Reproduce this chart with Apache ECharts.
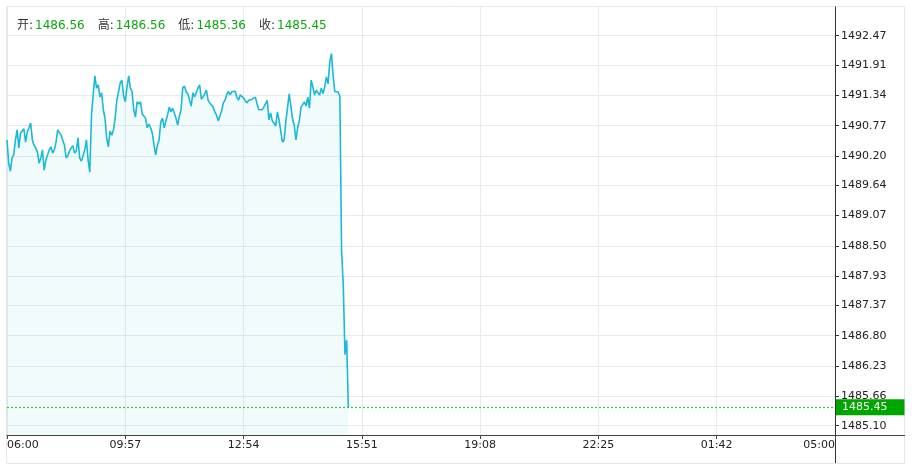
<!DOCTYPE html>
<html>
<head>
<meta charset="utf-8">
<script src="https://cdn.jsdelivr.net/npm/echarts@6/dist/echarts.min.js"></script>
<style>
html,body{margin:0;padding:0;background:#fff;}
#main{width:915px;height:467px;}
</style>
</head>
<body>
<div id="main"></div>
<script>
const xLabels = ['06:00','09:57','12:54','15:51','19:08','22:25','01:42','05:00'];
const yTickLabels = ['1485.10','1485.66','1486.23','1486.80','1487.37','1487.93','1488.50','1489.07','1489.64','1490.20','1490.77','1491.34','1491.91','1492.47'];
const headerNames = ['开','高','低','收'];
const headerValues = [1486.56, 1486.56, 1485.36, 1485.45];
const lastPrice = 1485.45;
const totalSlots = 490;
const prices = [
1490.50,1490.06,1489.91,1490.16,1490.22,1490.50,1490.69,1490.35,1490.63,1490.61,
1490.71,1490.46,1490.65,1490.73,1490.82,1490.50,1490.40,1490.35,1490.27,1490.06,
1490.16,1490.31,1489.93,1490.12,1490.22,1490.31,1490.37,1490.25,1490.31,1490.46,
1490.69,1490.71,1490.59,1490.61,1490.40,1490.16,1490.20,1490.29,1490.35,1490.39,
1490.25,1490.29,1490.54,1490.16,1490.10,1490.12,1490.31,1490.50,1490.12,1489.89,
1490.97,1491.35,1491.71,1491.48,1491.54,1491.31,1491.39,1491.07,1490.91,1490.54,
1490.37,1490.67,1490.59,1490.69,1490.91,1491.25,1491.41,1491.58,1491.63,1491.33,
1491.22,1491.50,1491.71,1491.48,1491.41,1491.07,1490.93,1491.22,1491.18,1491.22,
1490.99,1490.95,1490.91,1490.73,1490.80,1490.73,1490.63,1490.40,1490.22,1490.40,
1490.50,1490.84,1490.91,1490.73,1490.76,1490.97,1491.12,1491.03,1491.10,1491.01,
1490.91,1490.78,1490.95,1491.07,1491.48,1491.52,1491.41,1491.37,1491.35,1491.14,
1491.39,1491.31,1491.33,1491.48,1491.54,1491.27,1491.31,1491.37,1491.44,1491.25,
1491.20,1491.22,1491.12,1491.03,1490.97,1490.86,1490.95,1491.05,1491.20,1491.25,
1491.35,1491.42,1491.35,1491.41,1491.39,1491.42,1491.31,1491.25,1491.35,1491.37,
1491.29,1491.24,1491.20,1491.25,1491.24,1491.27,1491.25,1491.31,1491.18,1491.07,
1491.10,1491.07,1491.12,1491.12,1491.25,1490.88,1491.01,1490.86,1490.82,1490.76,
1491.03,1490.88,1490.67,1490.46,1490.50,1490.84,1490.82,1491.37,1491.14,1490.89,
1490.78,1490.50,1490.73,1490.86,1491.12,1491.14,1491.22,1491.14,1491.31,1491.10,
1491.63,1491.50,1491.35,1491.44,1491.46,1491.35,1491.48,1491.37,1491.50,1491.69,
1491.56,1491.97,1492.13,1491.71,1491.41,1491.44,1491.41,1491.32,1488.42,1487.76,
1486.44,1486.72,1485.45
];

const chart = echarts.init(document.getElementById('main'), null, {renderer:'canvas'});
const FONT = 'DejaVu Sans, Noto Sans CJK SC, sans-serif';
const headerText = headerNames.map((n,i)=>'{l|'+n+':}{v|'+headerValues[i].toFixed(2)+'}' + (i<headerNames.length-1?'{g|}':'')).join('');

const option = {
  animation:false,
  backgroundColor:'#fff',
  title:{
    left:12, top:15,
    text: headerText,
    textStyle:{
      fontFamily:FONT, fontSize:12, fontWeight:'normal',
      rich:{
        l:{color:'#333', fontFamily:FONT, fontSize:12, fontWeight:'normal', padding:[0,2,0,0]},
        v:{color:'#0ea80e', fontFamily:FONT, fontSize:12, fontWeight:'normal'},
        g:{width:13}
      }
    }
  },
  grid:{left:7, right:80, top:7, bottom:32},
  xAxis:{
    type:'value', min:0, max:totalSlots, interval:totalSlots/(xLabels.length-1),
    axisLine:{show:true, onZero:false, lineStyle:{color:'#444', width:1}},
    axisTick:{show:true, inside:false, length:4, lineStyle:{color:'#444'}},
    axisLabel:{
      margin:5, color:'#222', fontFamily:FONT, fontSize:11,
      alignMinLabel:'left', alignMaxLabel:'right',
      formatter:(v)=>xLabels[Math.round(v/(totalSlots/(xLabels.length-1)))]
    },
    splitLine:{show:true, lineStyle:{color:'#e4ecf2', width:1}}
  },
  yAxis:{
    type:'value', position:'right', min:1484.924, max:1493.012, scale:true,
    axisLine:{show:true, onZero:false, lineStyle:{color:'#333', width:1}},
    axisTick:{show:true, inside:false, length:4, lineStyle:{color:'#333'}, customValues: yTickLabels.map(Number)},
    axisLabel:{
      margin:6, color:'#222', fontFamily:FONT, fontSize:11,
      customValues: yTickLabels.map(Number),
      formatter:(v)=>{
        let best = yTickLabels[0], d = Infinity;
        yTickLabels.forEach(t=>{const dd=Math.abs(Number(t)-v); if(dd<d){d=dd;best=t;}});
        return best;
      }
    },
    splitLine:{show:true, lineStyle:{color:'#e4ecf2', width:1}}
  },
  series:[{
    type:'line',
    data: prices.map((p,i)=>[i,p]),
    showSymbol:false,
    symbol:'none',
    lineStyle:{color:'#1ab9d6', width:1.6},
    areaStyle:{color:'rgba(30,188,215,0.09)', origin:'start'},
    markLine:{
      silent:true,
      symbol:['none','none'],
      data:[{yAxis:lastPrice}],
      lineStyle:{type:[2,2], color:'#3cc43c', width:1.2},
      label:{
        show:true, position:'end', distance:1,
        formatter: lastPrice.toFixed(2),
        backgroundColor:'#00a600', color:'#fff',
        fontFamily:FONT, fontSize:11,
        padding:[3,17,2,6]
      }
    }
  }],
  graphic:[
    {type:'rect', silent:true, z:-1, shape:{x:6.5, y:6.5, width:898, height:457}, style:{fill:null, stroke:'#e6e6e6', lineWidth:1}},
    {type:'line', silent:true, shape:{x1:835.5, y1:435, x2:835.5, y2:463}, style:{stroke:'#333', lineWidth:1}},
    {type:'line', silent:true, shape:{x1:835, y1:435.5, x2:905, y2:435.5}, style:{stroke:'#444', lineWidth:1}}
  ]
};
chart.setOption(option);
</script>
</body>
</html>
